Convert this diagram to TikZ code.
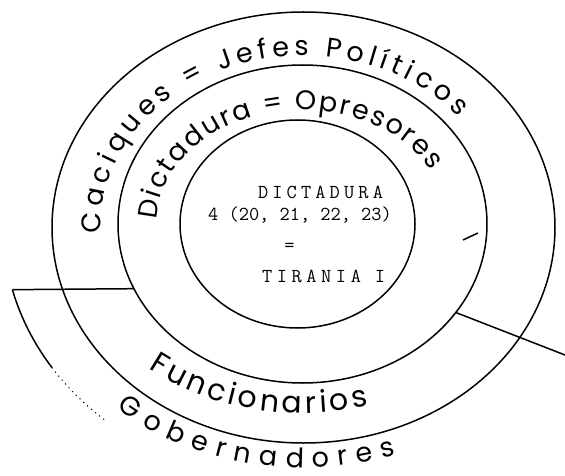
\documentclass[tikz,border=0pt]{standalone}
\usepackage{fontspec}
\usepackage{tikz}
\usetikzlibrary{shapes.geometric,decorations.text}
\newfontfamily\handfont{Poppins}
\newcommand{\ringtext}{\handfont\fontsize{27}{30}\selectfont}
\newcommand{\lowtext}{\handfont\fontsize{30}{33}\selectfont}
\newcommand{\typetext}{\ttfamily\fontsize{19.8}{22}\selectfont}
\tikzset{
ring/.style={draw,ellipse,line width=1.5pt,inner sep=0pt,outer sep=0pt},
edge/.style={line width=1.5pt},
faint/.style={line width=1pt,dash pattern=on 1.2pt off 4pt},
curved/.style={decorate,decoration={text along path,text align={fit to path},text={#1}}}
}

\begin{document}
\begin{tikzpicture}[x=1pt,y=1pt]
\useasboundingbox (0,0) rectangle (565,475);
\node[ring,minimum width=235pt,minimum height=208pt] (inner) at (297.5,251) {};
\node[ring,minimum width=369pt,minimum height=318pt] (middle) at (302.5,251) {};
\node[ring,minimum width=503pt,minimum height=431pt] (outer) at (303.5,247.5) {};
\node[font=\typetext,anchor=base] (dict) at (320.5,277) {\makebox[125pt][s]{D\hfil I\hfil C\hfil T\hfil A\hfil D\hfil U\hfil R\hfil A}};
\node[font=\typetext,anchor=base] (nums) at (300,255) {4 (20, 21, 22, 23)};
\node[font=\typetext] (equal) at (289.5,228) {=};
\node[font=\typetext,anchor=base] (tyr) at (323.5,193) {\makebox[123pt][s]{T\hfil I\hfil R\hfil A\hfil N\hfil I\hfil A\hfil\hfil\hfil I}};
\coordinate (gl) at ([shift={(194:300 and 257)}]outer.center);
\coordinate (re) at (565,120);
\draw[edge] (gl) -- (middle.201.5);
\draw[edge] (middle.330) -- (re);
\draw[edge] (gl) arc[start angle=194,end angle=213,x radius=300,y radius=257] coordinate (gd);
\draw[faint] (gd) arc[start angle=213,end angle=229,x radius=300,y radius=257];
\draw[edge] (463,235) -- (478,242);
\path[curved={|\ringtext|Caciques = Jefes Políticos}] ([shift={(182:203 and 172)}]outer.center) arc[start angle=182,end angle=40,x radius=203,y radius=172];
\path[curved={|\ringtext|Dictadura = Opresores}] ([shift={(178:146 and 114)}]middle.center) arc[start angle=178,end angle=28,x radius=146,y radius=114];
\path[curved={|\lowtext|Funcionarios}] ([shift={(230:240 and 189)}]middle.center) arc[start angle=230,end angle=286,x radius=240,y radius=189];
\path[curved={|\ringtext|Gobernadores}] ([shift={(229:285 and 240)}]outer.center) arc[start angle=229,end angle=289,x radius=285,y radius=240];
\end{tikzpicture}
\end{document}
